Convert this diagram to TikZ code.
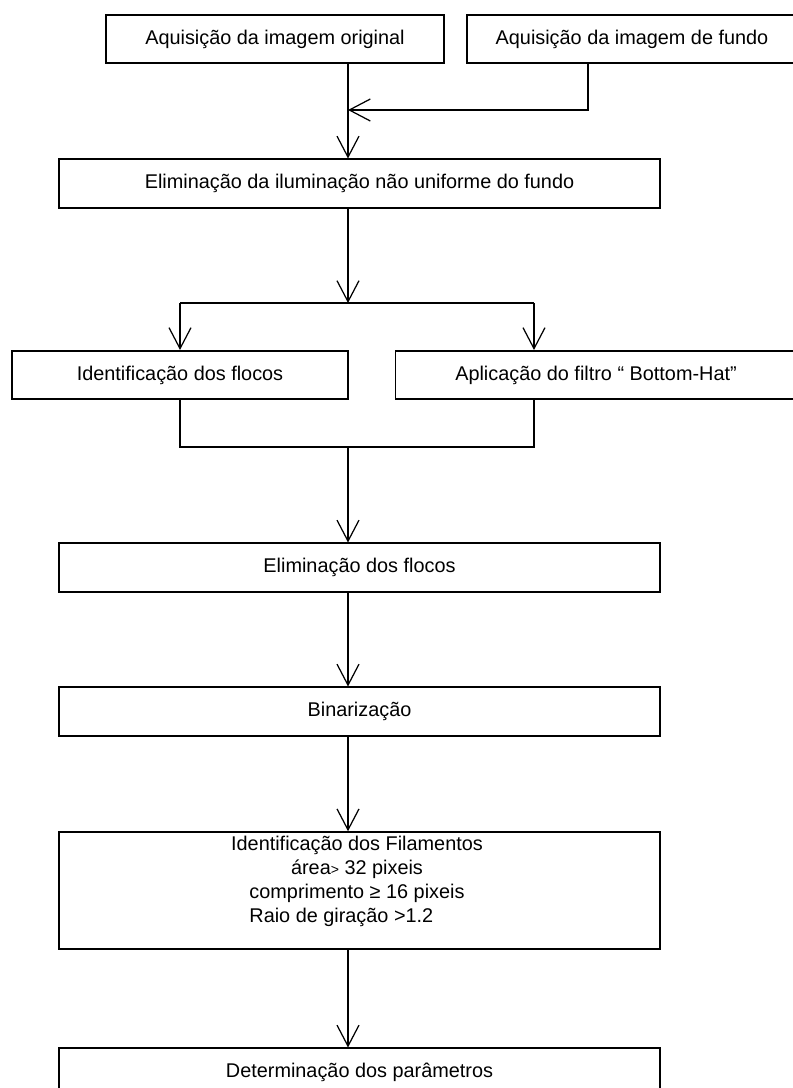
\documentclass[tikz,border=0pt]{standalone}
\usepackage{fontspec}
\usepackage{calc}
\setmainfont{Liberation Sans}
\usetikzlibrary{arrows.meta}

\tikzset{
  box/.style={draw, line width=0.9pt, minimum height=0.97cm, inner sep=0pt},
  flow/.style={line width=0.7pt, -{Straight Barb[length=0.42cm,width=0.44cm,line width=0.7pt]}},
  link/.style={line width=0.7pt}
}

\begin{document}
\begin{tikzpicture}[font=\fontsize{11.3}{13.7}\selectfont]
\useasboundingbox (0,0) rectangle (15.86,-21.76);
\clip (0,0) rectangle (15.86,-21.76);

% steps
\draw (5.5,-0.78) node[box, minimum width=6.76cm] (orig) {Aquisição da imagem original};
\draw (12.64,-0.78) node[box, minimum width=6.6cm] (fundo) {Aquisição da imagem de fundo};
\draw (7.19,-3.67) node[box, minimum width=12.02cm] (ilum) {Eliminação da iluminação não uniforme do fundo};
\draw (3.6,-7.5) node[box, minimum width=6.72cm] (flocos) {Identificação dos flocos};
\draw (11.92,-7.5) node[box, minimum width=8.02cm] (bhat) {Aplicação do filtro “ Bottom-Hat”};
\draw (7.19,-11.35) node[box, minimum width=12.02cm] (elimfl) {Eliminação dos flocos};
\draw (7.19,-14.23) node[box, minimum width=12.02cm] (binar) {Binarização};
\draw (7.19,-17.81) node[box, minimum width=12.02cm, minimum height=2.34cm] (filam) {};
\draw (7.14,-16.72) node[anchor=north, inner sep=0pt, align=center] (filamtxt)
  {Identificação dos Filamentos\\
   área{\footnotesize>} 32 pixeis\\
   comprimento ≥ 16 pixeis\\
   \makebox[\widthof{comprimento ≥ 16 pixeis}][l]{Raio de giração >1.2}};
\draw (7.19,-21.45) node[box, minimum width=12.02cm] (param) {Determinação dos parâmetros};

% junction points
\coordinate (col) at (6.96,0);
\coordinate (fleg) at (11.76,0);
\coordinate (join) at (6.96,-2.2);
\coordinate (split) at (6.96,-6.06);
\coordinate (splitL) at (3.6,-6.06);
\coordinate (splitR) at (10.68,-6.06);
\coordinate (merge) at (6.96,-8.94);
\coordinate (mergeL) at (3.6,-8.94);
\coordinate (mergeR) at (10.68,-8.94);

\draw[flow] (orig.south -| col) -- (ilum.north -| col);
\draw[flow] (fundo.south -| fleg) |- (join);
\draw[flow] (ilum.south -| col) -- (split);
\draw[link] (splitL) -- (splitR);
\draw[flow] (splitL) -- (flocos.north -| splitL);
\draw[flow] (splitR) -- (bhat.north -| splitR);
\draw[link] (flocos.south -| mergeL) -- (mergeL) -- (mergeR) -- (bhat.south -| mergeR);
\draw[flow] (merge) -- (elimfl.north -| merge);
\draw[flow] (elimfl.south -| col) -- (binar.north -| col);
\draw[flow] (binar.south -| col) -- (filam.north -| col);
\draw[flow] (filam.south -| col) -- (param.north -| col);
\end{tikzpicture}
\end{document}
